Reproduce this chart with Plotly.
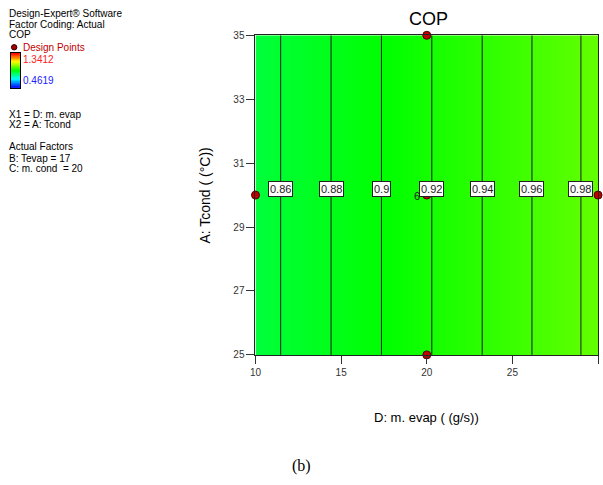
import colorsys
import numpy as np
import plotly.graph_objects as go

# ---- data ----
m_evap = [10, 15, 20, 25, 30]           # D: m. evap (g/s)
t_cond = [25, 35]                        # A: Tcond (°C)
cop_vs_mevap = [0.850, 0.884, 0.918, 0.952, 0.987]
contour_levels = [0.86, 0.88, 0.90, 0.92, 0.94, 0.96, 0.98]
level_labels = ["0.86", "0.88", "0.9", "0.92", "0.94", "0.96", "0.98"]
dp_x = [10, 20, 30, 20, 20]
dp_y = [30, 30, 30, 25, 35]
center_reps = "6"
cop_min, cop_max = 0.4619, 1.3412
x_ticks = [10, 15, 20, 25, 30]
y_ticks = [25, 27, 29, 31, 33, 35]

W, H = 603, 485
def px(x): return x / W
def py(y): return 1 - y / H

# HSV-like colour scale: blue (low) -> green -> red (high)
cscale = []
for i in range(25):
    f = i / 24
    r, g, b = colorsys.hsv_to_rgb((240 * (1 - f)) / 360, 1, 1)
    cscale.append([f, f"rgb({int(r*255)},{int(g*255)},{int(b*255)})"])

z = [cop_vs_mevap for _ in t_cond]
FONT = "Arial, Liberation Sans"

fig = go.Figure()
fig.add_trace(go.Contour(
    x=m_evap, y=t_cond, z=z, zmin=cop_min, zmax=cop_max, colorscale=cscale,
    showscale=False, contours=dict(coloring="heatmap", start=contour_levels[0],
                                   end=contour_levels[-1], size=0.02),
    line=dict(color="#1a1a1a", width=1), hoverinfo="skip",
    xaxis="x", yaxis="y"))

fig.add_trace(go.Scatter(
    x=dp_x, y=dp_y, mode="markers",
    marker=dict(size=8, color="#c00000", line=dict(color="#500000", width=1)),
    cliponaxis=False, showlegend=False, xaxis="x", yaxis="y"))

# left mini colour bar
vals = np.linspace(cop_min, cop_max, 60)
fig.add_trace(go.Heatmap(
    z=[[v] for v in vals], colorscale=cscale, zmin=cop_min, zmax=cop_max,
    showscale=False, xaxis="x2", yaxis="y2", hoverinfo="skip"))

annotations = []
label_y = 30.2
for lv, lab in zip(contour_levels, level_labels):
    xl = float(np.interp(lv, cop_vs_mevap, m_evap))
    annotations.append(dict(x=xl, y=label_y, xref="x", yref="y", text=lab,
                            xanchor="center", yanchor="middle",
                            showarrow=False, bgcolor="white", bordercolor="#222",
                            borderwidth=1, borderpad=1,
                            font=dict(family=FONT, size=11, color="#222")))
annotations.insert(0, dict(x=dp_x[1], y=dp_y[1], xref="x", yref="y", text=center_reps,
                           xanchor="center", yanchor="middle",
                           showarrow=False, xshift=-10, yshift=-1,
                           font=dict(family=FONT, size=11, color="#222")))

LX, DY = 2, -3
side = [
    ("Design-Expert® Software", 12, "#000"),
    ("Factor Coding: Actual", 22.5, "#000"),
    ("COP", 33, "#000"),
    ("Design Points", 46.5, "#c00000"),
    ("X1 = D: m. evap", 115, "#000"),
    ("X2 = A: Tcond", 125.5, "#000"),
    ("Actual Factors", 147.5, "#000"),
    ("B: Tevap = 17", 160, "#000"),
    ("C: m. cond  = 20", 170.5, "#000"),
]
for t, yy, c in side:
    xx = LX + 14 if t == "Design Points" else LX
    annotations.append(dict(x=px(xx), y=py(yy + DY), xref="paper", yref="paper", text=t,
                            showarrow=False, xanchor="left", yanchor="middle",
                            borderpad=0, font=dict(family=FONT, size=10, color=c)))
annotations.append(dict(x=px(LX + 14), y=py(58.5 + DY), xref="paper", yref="paper", text=f"{cop_max:.4f}",
                        showarrow=False, xanchor="left", yanchor="middle", borderpad=0,
                        font=dict(family=FONT, size=10, color="#ff2020")))
annotations.append(dict(x=px(LX + 14), y=py(80 + DY), xref="paper", yref="paper", text=f"{cop_min:.4f}",
                        showarrow=False, xanchor="left", yanchor="middle", borderpad=0,
                        font=dict(family=FONT, size=10, color="#2020ff")))
# titles
annotations.append(dict(x=px(427), y=py(14), xref="paper", yref="paper", text="COP",
                        xanchor="center", yanchor="middle",
                        showarrow=False, font=dict(family=FONT, size=18, color="#000")))
annotations.append(dict(x=px(425), y=py(422), xref="paper", yref="paper", text="D: m. evap ( (g/s))",
                        xanchor="center", yanchor="middle",
                        showarrow=False, font=dict(family=FONT, size=13, color="#000")))
annotations.append(dict(x=px(201), y=py(195), xref="paper", yref="paper", text="A: Tcond ( (°C))",
                        xanchor="center", yanchor="middle",
                        showarrow=False, textangle=-90,
                        font=dict(family=FONT, size=14, color="#000")))
annotations.append(dict(x=px(298), y=py(472), xref="paper", yref="paper", text="(b)",
                        xanchor="center", yanchor="middle",
                        showarrow=False, font=dict(family="Liberation Serif, Times New Roman", size=16, color="#000")))

shapes = [dict(type="circle", xref="paper", yref="paper",
               x0=px(LX + 3.5), x1=px(LX + 9), y0=py(49 + DY), y1=py(43.5 + DY),
               fillcolor="#a00000", line=dict(color="#300000", width=1))]

axis_common = dict(showgrid=False, zeroline=False, showline=True, linecolor="#222",
                   linewidth=1, mirror=True, ticks="outside", ticklen=8, tickcolor="#333",
                   tickfont=dict(family=FONT, size=10, color="#333"))

fig.update_layout(
    width=W, height=H, margin=dict(l=0, r=0, t=0, b=0, pad=0), autosize=False,
    paper_bgcolor="white", plot_bgcolor="white", showlegend=False,
    xaxis=dict(domain=[px(252), px(598)], range=[10, 30], tickvals=x_ticks,
               anchor="y", **axis_common),
    yaxis=dict(domain=[py(358), py(31)], range=[25, 35], tickvals=y_ticks,
               anchor="x", **axis_common),
    xaxis2=dict(domain=[px(LX + 3), px(LX + 12.5)], anchor="y2", showticklabels=False, ticks="",
                showgrid=False, zeroline=False, showline=True, mirror=True, linecolor="#000",
                range=[-0.5, 0.5]),
    yaxis2=dict(domain=[py(88 + DY), py(52 + DY)], anchor="x2", showticklabels=False, ticks="",
                showgrid=False, zeroline=False, showline=True, mirror=True, linecolor="#000",
                range=[-0.5, len(vals) - 0.5]),
    annotations=annotations, shapes=shapes,
)

fig.write_html("out.html", config={"responsive": False})
